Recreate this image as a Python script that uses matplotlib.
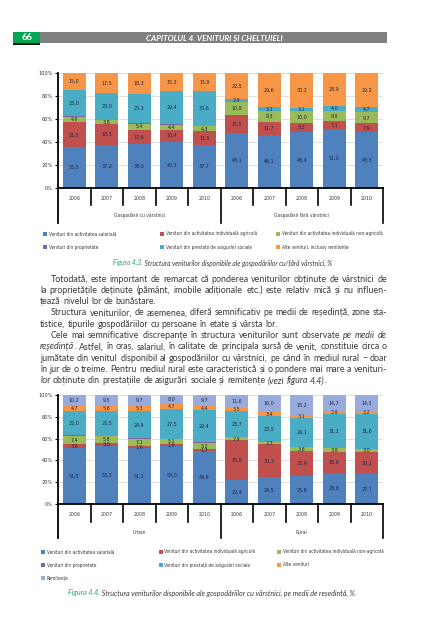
import matplotlib
matplotlib.use('Agg')
import numpy as np
import matplotlib.pyplot as plt
from matplotlib.patches import Rectangle
import matplotlib.transforms as mtransforms

# ---------------- data ----------------
years = ['2006', '2007', '2008', '2009', '2010']
groups43 = ['Gospodării cu vârstnici', 'Gospodării fără vârstnici']
groups44 = ['Urban', 'Rural']

# Figure 4.3 (first 5 = cu vârstnici, last 5 = fără vârstnici)
salary43 = [35.5, 37.2, 38.0, 40.3, 37.7, 48.1, 46.1, 48.4, 51.0, 48.3]
agri43 = [21.5, 18.3, 12.6, 10.4, 11.5, 15.5, 11.7, 8.2, 7.1, 7.9]
nonagri43 = [4.9, 3.8, 5.4, 4.4, 4.3, 10.8, 9.3, 10.0, 8.9, 9.7]
property43 = [0.5, 0.2, 0.4, 0.2, 0.1, 0.2, 0.2, 0.1, 0.1, 0.2]
social43 = [23.0, 23.0, 25.3, 29.4, 30.6, 2.9, 3.1, 3.1, 4.0, 4.7]
other43 = [15.0, 17.5, 18.3, 15.3, 15.9, 22.5, 29.6, 30.2, 28.9, 29.2]

# Figure 4.4 (first 5 = Urban, last 5 = Rural)
salary44 = [51.5, 53.3, 51.2, 53.0, 48.9, 22.4, 24.5, 25.8, 28.8, 27.7]
agri44 = [3.6, 3.0, 1.6, 1.6, 1.7, 35.9, 30.3, 22.9, 18.6, 20.1]
nonagri44 = [7.4, 5.8, 7.1, 5.1, 5.2, 2.9, 2.3, 3.8, 3.8, 3.0]
property44 = [0.6, 0.3, 0.2, 0.1, 0.7, 0.1, 0.1, 0.1, 0.1, 0.1]
social44 = [22.0, 22.5, 24.9, 27.5, 29.4, 23.7, 23.5, 26.1, 31.2, 31.6]
other44 = [4.7, 5.6, 5.3, 4.7, 4.4, 3.5, 3.4, 3.1, 2.9, 3.2]
remit44 = [10.2, 9.5, 9.7, 8.0, 9.7, 11.6, 16.0, 18.2, 14.7, 14.3]

legend43 = ['Venituri din activitatea salarială',
            'Venituri din activitatea individuală agricolă',
            'Venituri din activitatea individuală non-agricolă',
            'Venituri din proprietate',
            'Venituri din prestații de asigurări sociale',
            'Alte venituri, inclusiv remitențe']
legend44 = ['Venituri din activitatea salarială',
            'Venituri din activitatea individuală agricolă',
            'Venituri din activitatea individuală non-agricolă',
            'Venituri din proprietate',
            'Venituri din prestații de asigurări sociale',
            'Alte venituri',
            'Remitențe']

para_lines = [
    ("Totodată, este important de remarcat că ponderea veniturilor obținute de vârstnici de", True, True),
    ("la proprietățile deținute (pământ, imobile adiționale etc.) este relativ mică și nu influen-", False, True),
    ("țează nivelul lor de bunăstare.", False, False),
    ("Structura veniturilor, de asemenea, diferă semnificativ pe medii de reședință, zone sta-", True, True),
    ("tistice, tipurile gospodăriilor cu persoane în etate și vârsta lor.", False, False),
    ("Cele mai semnificative discrepanțe în structura veniturilor sunt observate *pe medii de*", True, True),
    ("*reședință*. Astfel, în oraș, salariul, în calitate de principala sursă de venit, constituie circa o", False, True),
    ("jumătate din venitul disponibil al gospodăriilor cu vârstnici, pe când în mediul rural – doar", False, True),
    ("în jur de o treime. Pentru mediul rural este caracteristică și o pondere mai mare a venituri-", False, True),
    ("lor obținute din prestațiile de asigurări sociale și remitențe *(vezi figura 4.4)*.", False, False),
]

caption43 = ("Figura 4.3.", " Structura veniturilor disponibile ale gospodăriilor cu/fără vârstnici, %")
caption44 = ("Figura 4.4.", " Structura veniturilor disponibile ale gospodăriilor cu vârstnici, pe medii de reședință, %")
header_num = "66"
header_title = "CAPITOLUL 4. VENITURI ȘI CHELTUIELI"

# ---------------- style ----------------
C_BLUE, C_RED, C_GREEN = '#4f81bd', '#c0504d', '#9bbb59'
C_PURPLE, C_AQUA, C_ORANGE, C_LAV = '#8064a2', '#4bacc6', '#f79646', '#98abda'
COND = ['Liberation Sans Narrow', 'DejaVu Sans']
BODY = ['Lato', 'DejaVu Sans']
TXT = '#3a3a3a'
LBL = '#1d2744'
GREEN_CAP = '#2e9e6e'
STRETCH = 'condensed'

W, H = 440, 640
fig = plt.figure(figsize=(4.4, 6.4), dpi=100)
fig.patch.set_facecolor('white')
renderer = fig.canvas.get_renderer()


def fx(x):
    return x / W


def fy(y):
    return 1 - y / H


def measure(s, fs, family, style='normal', weight='normal', stretch='normal'):
    t = fig.text(0, 0, s, fontsize=fs, family=family, style=style, weight=weight,
                 fontstretch=stretch)
    w = t.get_window_extent(renderer).width
    t.remove()
    return w


def fit(s, target, family, style='normal', weight='normal', stretch='normal'):
    return 10 * target / measure(s, 10, family, style, weight, stretch)


def frect(x0, y0, x1, y1, color):
    fig.patches.append(Rectangle((fx(x0), fy(y1)), (x1 - x0) / W, (y1 - y0) / H,
                                 transform=fig.transFigure, color=color, lw=0))


def blend(a, b):
    return 0.5 * (a + b)


# sizes: compromise between matching width and matching glyph height
FS_LBL = blend(fit('35,5', 9.5, COND, stretch=STRETCH), 4.4)
FS_YEAR = blend(fit('2006', 10, COND, stretch=STRETCH), 4.4)
FS_GRP = blend(fit(groups43[0], 43, COND, stretch=STRETCH), 4.2)
FS_TICK = blend(fit('100%', 13, COND, stretch=STRETCH), 4.4)
FS_LEG = blend(fit(legend43[2], 99, COND, stretch=STRETCH), 3.6)

# ---------------- header ----------------
frect(40, 32, 387, 43, '#808080')
frect(13, 32, 40, 43, '#00a651')
frect(13, 43, 40, 45, '#1a1a1a')
fig.text(fx(27), fy(38), header_num, color='white', fontsize=6.8, weight='bold',
         family=BODY, ha='center', va='center')
fs_h = fit(header_title, 136, BODY, 'italic', 'bold')
fig.text(fx(214), fy(38), header_title, color='white', fontsize=fs_h, weight='bold',
         style='italic', family=BODY, ha='center', va='center')


# ---------------- charts ----------------
def fmt(v):
    return f'{v:.1f}'.replace('.', ',')


def draw_chart(top, bottom, series, colors, labelled, gnames, year_y, group_y, short_y, long_y):
    ax = fig.add_axes([fx(58), fy(bottom), (383 - 58) / W, (bottom - top) / H])
    hpx = bottom - top
    x = np.arange(10)
    base = np.zeros(10)
    for vals, c, lab in zip(series, colors, labelled):
        vals = np.array(vals, dtype=float)
        ax.bar(x, vals, 0.7, bottom=base, color=c, edgecolor='none', zorder=2)
        if lab:
            for xi, b, v in zip(x, base, vals):
                ax.text(xi, b + v / 2, fmt(v), ha='center', va='center', fontsize=FS_LBL,
                        family=COND, fontstretch=STRETCH, color=LBL, zorder=3)
        base = base + vals
    ax.set_xlim(-0.5, 9.5)
    ax.set_ylim(0, 100)
    ax.set_yticks([0, 20, 40, 60, 80, 100])
    ax.set_yticklabels([f'{t}%' for t in [0, 20, 40, 60, 80, 100]], family=COND,
                       fontstretch=STRETCH)
    ax.set_xticks([])
    ax.yaxis.grid(True, color='#d9d9d9', lw=0.6)
    ax.set_axisbelow(True)
    for s in ['top', 'right']:
        ax.spines[s].set_visible(False)
    for s in ['left', 'bottom']:
        ax.spines[s].set_linewidth(1.3)
        ax.spines[s].set_color('black')
    ax.tick_params(axis='y', length=2.5, width=0.8, pad=1.5, labelsize=FS_TICK, labelcolor=TXT)
    tr = mtransforms.blended_transform_factory(ax.transData, ax.transAxes)
    ys = -(short_y - bottom) / hpx
    yl = -(long_y - bottom) / hpx
    ax.plot([-0.5, -0.5], [0, yl], transform=tr, clip_on=False, color='black', lw=1.3)
    for b in [0.5, 1.5, 2.5, 3.5, 5.5, 6.5, 7.5, 8.5]:
        ax.plot([b, b], [0, ys], transform=tr, clip_on=False, color='black', lw=1.2)
    for b in [4.5, 9.5]:
        ax.plot([b, b], [0, yl], transform=tr, clip_on=False, color='black', lw=1.2)
    for i in range(10):
        ax.text(i, -(year_y - bottom) / hpx, years[i % 5], transform=tr, ha='center',
                va='center', fontsize=FS_YEAR, family=COND, fontstretch=STRETCH, color=TXT)
    for g, name in enumerate(gnames):
        ax.text(2 + 5 * g, -(group_y - bottom) / hpx, name, transform=tr, ha='center',
                va='center', fontsize=FS_GRP, family=COND, fontstretch=STRETCH, color=TXT)
    return ax


draw_chart(73, 188,
           [salary43, agri43, nonagri43, property43, social43, other43],
           [C_BLUE, C_RED, C_GREEN, C_PURPLE, C_AQUA, C_ORANGE],
           [True, True, True, False, True, True],
           groups43, 198, 215, 205, 223)

draw_chart(395, 504,
           [salary44, agri44, nonagri44, property44, social44, other44, remit44],
           [C_BLUE, C_RED, C_GREEN, C_PURPLE, C_AQUA, C_ORANGE, C_LAV],
           [True, True, True, False, True, True, True],
           groups44, 514, 532, 522, 538)


# ---------------- legends ----------------
def legend(items, colors, xs, ys):
    for k, (lab, c) in enumerate(zip(items, colors)):
        xm = xs[k % 3]
        ym = ys[k // 3]
        frect(xm - 1.6, ym - 1.6, xm + 1.6, ym + 1.6, c)
        fig.text(fx(xm + 3.5), fy(ym), lab, fontsize=FS_LEG, family=COND,
                 fontstretch=STRETCH, color=TXT, ha='left', va='center')


legend(legend43, [C_BLUE, C_RED, C_GREEN, C_PURPLE, C_AQUA, C_ORANGE],
       [45, 162, 278], [234, 247])
legend(legend44, [C_BLUE, C_RED, C_GREEN, C_PURPLE, C_AQUA, C_ORANGE, C_LAV],
       [43, 161, 279], [552, 565, 578])


# ---------------- captions ----------------
def caption(parts, x0, x1, y):
    fs = fit(parts[0] + parts[1], x1 - x0, BODY, 'italic')
    wa = measure(parts[0], fs, BODY, 'italic')
    fig.text(fx(x0), fy(y), parts[0], fontsize=fs, family=BODY, style='italic',
             color=GREEN_CAP, ha='left', va='center')
    fig.text(fx(x0 + wa), fy(y), parts[1], fontsize=fs, family=BODY, style='italic',
             color=TXT, ha='left', va='center')


caption(caption43, 113, 333, 263)
caption(caption44, 68, 358, 593)


# ---------------- justified paragraph ----------------
def parse(line):
    words = []
    cur = []
    buf = ''
    ital = False
    for ch in line:
        if ch == '*':
            if buf:
                cur.append((buf, ital))
                buf = ''
            ital = not ital
        elif ch == ' ':
            if buf:
                cur.append((buf, ital))
                buf = ''
            if cur:
                words.append(cur)
                cur = []
        else:
            buf += ch
    if buf:
        cur.append((buf, ital))
    if cur:
        words.append(cur)
    return words


def word_width(word, fs):
    return sum(measure(s, fs, BODY, 'italic' if it else 'normal') for s, it in word)


XL, XI, XR = 40, 51, 387
parsed = [parse(t) for t, _, _ in para_lines]
fs_ref = 10
space_ref = measure('n n', fs_ref, BODY) - measure('nn', fs_ref, BODY)
scales = []
for words, (_, ind, just) in zip(parsed, para_lines):
    if not just:
        continue
    nat = sum(word_width(w, fs_ref) for w in words) + (len(words) - 1) * space_ref
    target = XR - (XI if ind else XL)
    scales.append(target / nat)
fs_body = fs_ref * float(np.median(scales))

for k, (words, (_, ind, just)) in enumerate(zip(parsed, para_lines)):
    y = 281.5 + 11.3 * k
    x0 = XI if ind else XL
    fs_line = fs_body
    if just:
        sw = sum(word_width(w, fs_ref) for w in words)
        min_nat = sw + (len(words) - 1) * space_ref * 0.75
        fs_line = min(fs_body, fs_ref * (XR - x0) / min_nat)
    widths = [word_width(w, fs_line) for w in words]
    if just and len(words) > 1:
        gap = (XR - x0 - sum(widths)) / (len(words) - 1)
    else:
        gap = space_ref * fs_line / fs_ref
    x = x0
    for w, ww in zip(words, widths):
        xr = x
        for s, it in w:
            st = 'italic' if it else 'normal'
            fig.text(fx(xr), fy(y), s, fontsize=fs_line, family=BODY,
                     style=st, color=TXT, ha='left', va='baseline')
            xr += measure(s, fs_line, BODY, st)
        x += ww + gap

fig.savefig('out.png', dpi=100, facecolor='white')
